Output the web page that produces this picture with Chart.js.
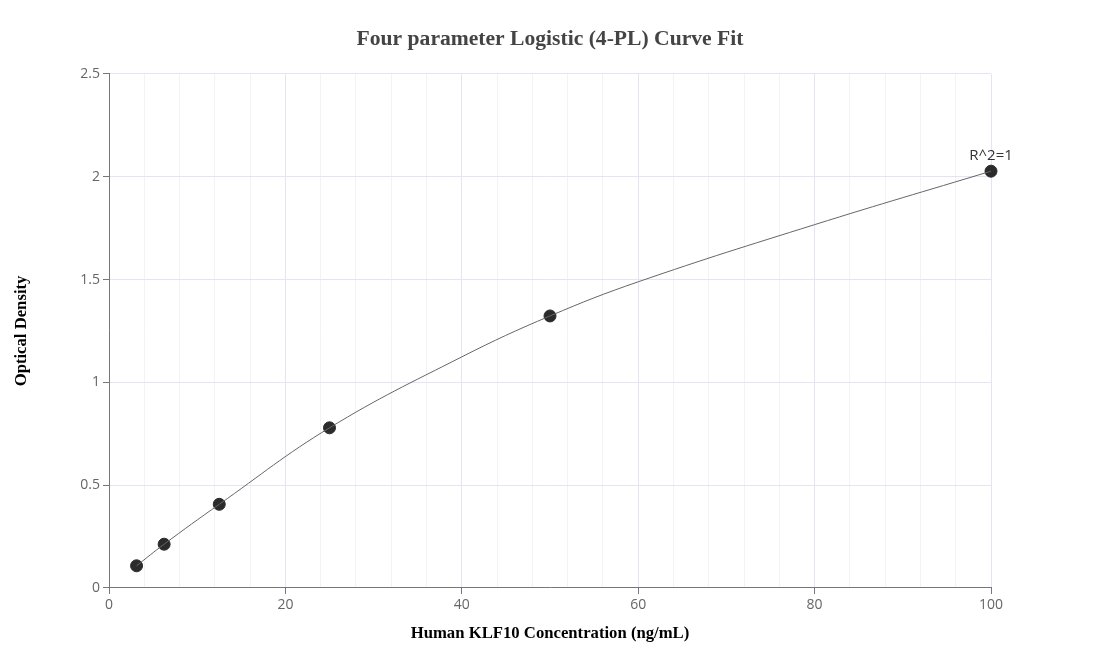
<!DOCTYPE html>
<html>
<head>
<meta charset="utf-8">
<script src="https://cdn.jsdelivr.net/npm/chart.js@4.4.1/dist/chart.umd.min.js"></script>
<style>
  html, body { margin: 0; padding: 0; background: #fff; }
  #wrap { width: 1100px; height: 672px; }
</style>
</head>
<body>
<div id="wrap"><canvas id="grafico"></canvas></div>
<script>
// standard points (ng/mL, OD)
const concentraciones = [3.125, 6.25, 12.5, 25, 50, 100];
const densidades = [0.108, 0.213, 0.407, 0.779, 1.323, 2.027];

// fitted curve
const curvaX = [3.125, 6.25, 12.5, 25, 40, 50, 60, 80, 100];
const curvaY = [0.108, 0.213, 0.407, 0.779, 1.124, 1.323, 1.489, 1.767, 2.027];

const ticksX = [0, 20, 40, 60, 80, 100];
const ticksY = [0, 0.5, 1, 1.5, 2, 2.5];
const etiquetaR2 = 'R^2=1';

const puntos = concentraciones.map((x, i) => ({ x: x, y: densidades[i] }));
const curva = curvaX.map((x, i) => ({ x: x, y: curvaY[i] }));

const serif = '"Liberation Serif", "Times New Roman", serif';

// R^2 text above the last point
const textoR2 = {
    id: 'textoR2',
    afterDatasetsDraw(chart) {
        const ctx = chart.ctx;
        const n = concentraciones.length - 1;
        const px = chart.scales.x.getPixelForValue(concentraciones[n]);
        const py = chart.scales.y.getPixelForValue(densidades[n]);
        ctx.save();
        ctx.font = '15px "Open Sans"';
        ctx.fillStyle = '#333';
        ctx.textAlign = 'center';
        ctx.textBaseline = 'middle';
        ctx.fillText(etiquetaR2, px, py - 15);
        ctx.restore();
    }
};

new Chart(document.getElementById('grafico'), {
    type: 'scatter',
    data: {
        datasets: [
            {
                type: 'line',
                data: curva,
                borderColor: '#666',
                borderWidth: 1,
                pointRadius: 0,
                fill: false,
                tension: 0.4,
                clip: false
            },
            {
                data: puntos,
                backgroundColor: '#2b2b2b',
                borderColor: '#2b2b2b',
                pointRadius: 6,
                pointHoverRadius: 6,
                clip: false
            }
        ]
    },
    options: {
        responsive: true,
        maintainAspectRatio: false,
        animation: false,
        layout: { padding: 0 },
        plugins: {
            legend: { display: false },
            tooltip: { enabled: false },
            title: {
                display: true,
                text: 'Four parameter Logistic (4-PL) Curve Fit',
                color: '#444',
                font: { family: serif, size: 21.6, weight: 'bold' },
                padding: { top: 26, bottom: 22 }
            }
        },
        scales: {
            x: {
                type: 'linear',
                min: 0,
                max: 100,
                afterFit(scale) { scale.height = 84; },
                afterBuildTicks(scale) {
                    const t = [];
                    for (let v = 0; v <= 100; v += 4) t.push({ value: v });
                    scale.ticks = t;
                },
                ticks: {
                    autoSkip: false,
                    maxRotation: 0,
                    color: '#666',
                    font: { family: '"Open Sans"', size: 14 },
                    padding: 3,
                    callback: (v) => ticksX.includes(v) ? String(v) : ''
                },
                grid: {
                    color: (c) => ticksX.includes(c.tick && c.tick.value) ? '#e3e6f2' : '#f1f3f9',
                    tickColor: (c) => ticksX.includes(c.tick && c.tick.value) ? '#777' : 'rgba(0,0,0,0)',
                    tickLength: 6
                },
                border: { display: true, color: '#777', width: 1 },
                title: {
                    display: true,
                    text: 'Human KLF10 Concentration (ng/mL)',
                    color: '#000',
                    font: { family: serif, size: 16.7, weight: 'bold' },
                    padding: 28
                }
            },
            y: {
                type: 'linear',
                min: 0,
                max: 2.5,
                afterFit(scale) { scale.width = 109; },
                afterBuildTicks(scale) {
                    scale.ticks = ticksY.map(v => ({ value: v }));
                },
                ticks: {
                    color: '#666',
                    font: { family: '"Open Sans"', size: 14 },
                    padding: 3,
                    callback: (v) => String(v)
                },
                grid: {
                    color: '#e3e6f2',
                    tickColor: '#777',
                    tickLength: 6
                },
                border: { display: true, color: '#777', width: 1 },
                title: {
                    display: true,
                    text: 'Optical Density',
                    color: '#000',
                    font: { family: serif, size: 16.7, weight: 'bold' },
                    padding: 12
                }
            },
            // empty right-hand margin so the title stays centred on the page
            margenDer: {
                type: 'linear',
                position: 'right',
                display: true,
                afterFit(scale) { scale.width = 109; },
                ticks: { display: false },
                grid: { drawOnChartArea: false, drawTicks: false },
                border: { display: false }
            }
        }
    },
    plugins: [textoR2]
});
</script>
</body>
</html>
